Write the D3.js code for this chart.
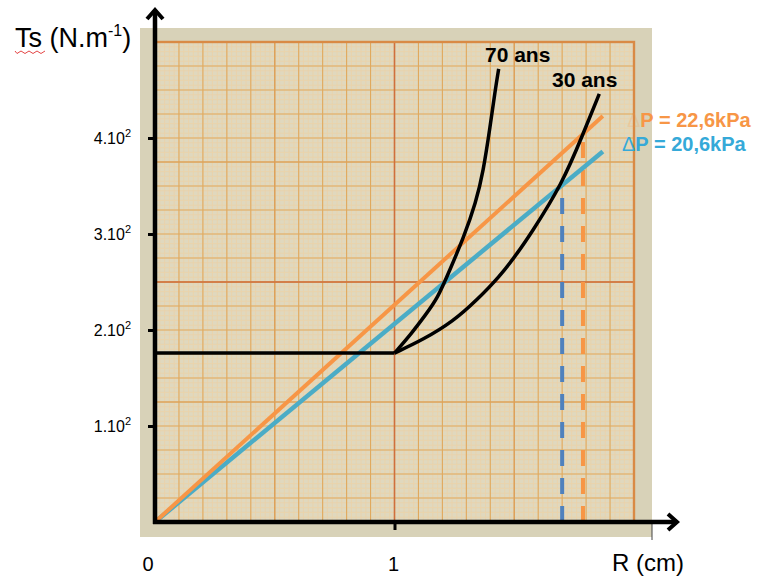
<!DOCTYPE html>
<html>
<head>
<meta charset="utf-8">
<script src="https://cdn.jsdelivr.net/npm/d3@7"></script>
<style>
	body{ margin:0; background:#fff; }
	svg{ display:block; font-family:"Liberation Sans", Arial, sans-serif; }
</style>
</head>
<body>
<svg id="Canvas" width="772" height="576"></svg>
<script>
// R in cm, Ts in N.m-1
var plateau = [[0, 176], [1, 176]];
var curve70 = [[1, 176], [1.07, 196], [1.13, 216], [1.18, 233], [1.23, 262], [1.29, 297],
	[1.34, 333], [1.37, 364], [1.40, 413], [1.42, 449], [1.435, 472]];
var curve30 = [[1, 176], [1.12, 190], [1.245, 209], [1.343, 231], [1.44, 256], [1.51, 279],
	[1.566, 299], [1.70, 352], [1.787, 404], [1.855, 446]];
var lineOrange = [[0, 0], [1.87, 423]];
var lineBlue = [[0, 0], [1.87, 386]];
var dashBlue = [[1.70, 0], [1.70, 350]];
var dashOrange = [[1.787, 0], [1.787, 404]];

var yTicks = [100, 200, 300, 400];
var yTickLabels = ["1.10", "2.10", "3.10", "4.10"];
var xTicks = [0, 1];
var xTickLabels = ["0", "1"];
var curveNames = ["70 ans", "30 ans"];
var dpNames = ["P = 22,6kPa", "P = 20,6kPa"];

var svg = d3.select("#Canvas");

var x = d3.scaleLinear().domain([0, 2]).range([155, 634]);
var y = d3.scaleLinear().domain([0, 500]).range([522, 42]);

var line = d3.line()
	.x(function(d){ return x(d[0]); })
	.y(function(d){ return y(d[1]); });
var smooth = d3.line()
	.x(function(d){ return x(d[0]); })
	.y(function(d){ return y(d[1]); })
	.curve(d3.curveBasis);

DrawPaper();
DrawSeries();
DrawAxes();
DrawLabels();

/*
 * beige sheet + millimetre paper
 */
function DrawPaper(){
	svg.append("rect")
		.attr("x", 140).attr("y", 28)
		.attr("width", 512).attr("height", 509)
		.attr("fill", "#d8d2b8");
	svg.append("rect")
		.attr("x", x(0)).attr("y", y(500))
		.attr("width", x(2) - x(0)).attr("height", y(0) - y(500))
		.attr("fill", "#e0d8be");

	var g = svg.append("g");
	GridLines(g, 0.02, 5, "#ead2aa", 0.9);
	GridLines(g, 0.1, 25, "#e0a95e", 1.1);
	GridLines(g, 0.5, 125, "#dc9f58", 1.2);
	GridLines(g, 1, 250, "#cf6f3e", 1.5);

	g.append("rect")
		.attr("x", x(0)).attr("y", y(500))
		.attr("width", x(2) - x(0)).attr("height", y(0) - y(500))
		.attr("fill", "none")
		.attr("stroke", "#d98a45")
		.attr("stroke-width", 2.4);
}

function GridLines(g, stepX, stepY, color, width){
	var vx = d3.range(0, 2 + 1e-6, stepX);
	var hy = d3.range(0, 500 + 1e-6, stepY);
	g.selectAll(null).data(vx).enter().append("line")
		.attr("x1", function(d){ return x(d); })
		.attr("x2", function(d){ return x(d); })
		.attr("y1", y(0)).attr("y2", y(500))
		.attr("stroke", color).attr("stroke-width", width);
	g.selectAll(null).data(hy).enter().append("line")
		.attr("y1", function(d){ return y(d); })
		.attr("y2", function(d){ return y(d); })
		.attr("x1", x(0)).attr("x2", x(2))
		.attr("stroke", color).attr("stroke-width", width);
}

/*
 * lines and curves
 */
function DrawSeries(){
	var g = svg.append("g").attr("fill", "none").attr("stroke-linecap", "butt");

	g.append("path").datum(dashBlue).attr("d", line)
		.attr("stroke", "#4f81bd").attr("stroke-width", 4)
		.attr("stroke-dasharray", "16,12");
	g.append("path").datum(dashOrange).attr("d", line)
		.attr("stroke", "#f79646").attr("stroke-width", 4)
		.attr("stroke-dasharray", "16,12");

	g.append("path").datum(lineBlue).attr("d", line)
		.attr("stroke", "#4bacc6").attr("stroke-width", 4.5);
	g.append("path").datum(lineOrange).attr("d", line)
		.attr("stroke", "#f79646").attr("stroke-width", 4);

	g.append("path").datum(plateau).attr("d", line)
		.attr("stroke", "#000").attr("stroke-width", 3.5);
	g.append("path").datum(curve70).attr("d", smooth)
		.attr("stroke", "#000").attr("stroke-width", 3.5);
	g.append("path").datum(curve30).attr("d", smooth)
		.attr("stroke", "#000").attr("stroke-width", 3.5);
}

/*
 * axes with arrows
 */
function DrawAxes(){
	var yAxis = d3.axisLeft(y).tickValues(yTicks).tickSizeInner(7).tickSizeOuter(0).tickFormat("");
	var gy = svg.append("g").attr("transform", "translate(" + x(0) + ",0)").call(yAxis);
	gy.select(".domain").remove();
	gy.selectAll(".tick line").attr("stroke", "#000").attr("stroke-width", 3);

	var xAxis = d3.axisBottom(x).tickValues([1]).tickSizeInner(8).tickSizeOuter(0).tickFormat("");
	var gx = svg.append("g").attr("transform", "translate(0," + y(0) + ")").call(xAxis);
	gx.select(".domain").remove();
	gx.selectAll(".tick line").attr("stroke", "#000").attr("stroke-width", 3);

	// thin mark at the sheet edge
	svg.append("line")
		.attr("x1", 652).attr("x2", 652).attr("y1", y(0)).attr("y2", 540)
		.attr("stroke", "#444").attr("stroke-width", 1);

	svg.append("line")
		.attr("x1", x(0)).attr("x2", x(0)).attr("y1", y(0) + 2).attr("y2", 10)
		.attr("stroke", "#000").attr("stroke-width", 4.5);
	svg.append("line")
		.attr("x1", x(0) - 2).attr("x2", 677).attr("y1", y(0)).attr("y2", y(0))
		.attr("stroke", "#000").attr("stroke-width", 4.5);

	svg.append("path")
		.attr("d", "M" + (x(0) - 8) + ",19L" + x(0) + ",10L" + (x(0) + 8) + ",19")
		.attr("fill", "none").attr("stroke", "#000").attr("stroke-width", 4);
	svg.append("path")
		.attr("d", "M668," + (y(0) - 8) + "L677," + y(0) + "L668," + (y(0) + 8))
		.attr("fill", "none").attr("stroke", "#000").attr("stroke-width", 4);
}

/*
 * texts
 */
function DrawLabels(){
	var t = svg.append("text").attr("x", 15).attr("y", 47)
		.attr("font-size", 27).attr("fill", "#000");
	t.append("tspan").text("Ts (N.m");
	t.append("tspan").attr("dy", -11).attr("font-size", 16).text("-1");
	t.append("tspan").attr("dy", 11).text(")");

	// spell checker squiggle under Ts
	var sq = "M15,51";
	for(var i = 0; i < 8; i++){
		sq += "L" + (17 + i * 4) + "," + (i % 2 ? 51 : 53.5);
	}
	svg.append("path").attr("d", sq).attr("fill", "none")
		.attr("stroke", "#e03030").attr("stroke-width", 0.9);

	var yl = svg.selectAll(".ylab").data(yTicks).enter().append("text")
		.attr("class", "ylab")
		.attr("x", 131)
		.attr("y", function(d){ return y(d) + 6; })
		.attr("text-anchor", "end")
		.attr("font-size", 16)
		.attr("fill", "#000");
	yl.append("tspan").text(function(d, i){ return yTickLabels[i]; });
	yl.append("tspan").attr("dy", -7).attr("font-size", 11).text("2");

	svg.selectAll(".xlab").data(xTicks).enter().append("text")
		.attr("class", "xlab")
		.attr("x", function(d){ return x(d); })
		.attr("dx", function(d){ return d === 0 ? -7 : -1; })
		.attr("y", 571)
		.attr("text-anchor", "middle")
		.attr("font-size", 20)
		.attr("fill", "#000")
		.text(function(d, i){ return xTickLabels[i]; });

	svg.append("text").attr("x", 612).attr("y", 571)
		.attr("font-size", 24).attr("fill", "#000").text("R (cm)");

	svg.append("text").attr("x", 485).attr("y", 62)
		.attr("font-size", 21).attr("font-weight", "bold").text(curveNames[0]);
	svg.append("text").attr("x", 552).attr("y", 87)
		.attr("font-size", 21).attr("font-weight", "bold").text(curveNames[1]);

	var o = svg.append("text").attr("x", 627).attr("y", 127)
		.attr("font-size", 20).attr("font-weight", "bold").attr("fill", "#f79646");
	o.append("tspan").attr("font-weight", "normal").attr("fill-opacity", 0.2).text("\u0394");
	o.append("tspan").text(dpNames[0]);

	var b = svg.append("text").attr("x", 622).attr("y", 151)
		.attr("font-size", 20).attr("font-weight", "bold").attr("fill", "#35a9d8");
	b.append("tspan").attr("font-weight", "normal").text("\u0394");
	b.append("tspan").text(dpNames[1]);
}
</script>
</body>
</html>
